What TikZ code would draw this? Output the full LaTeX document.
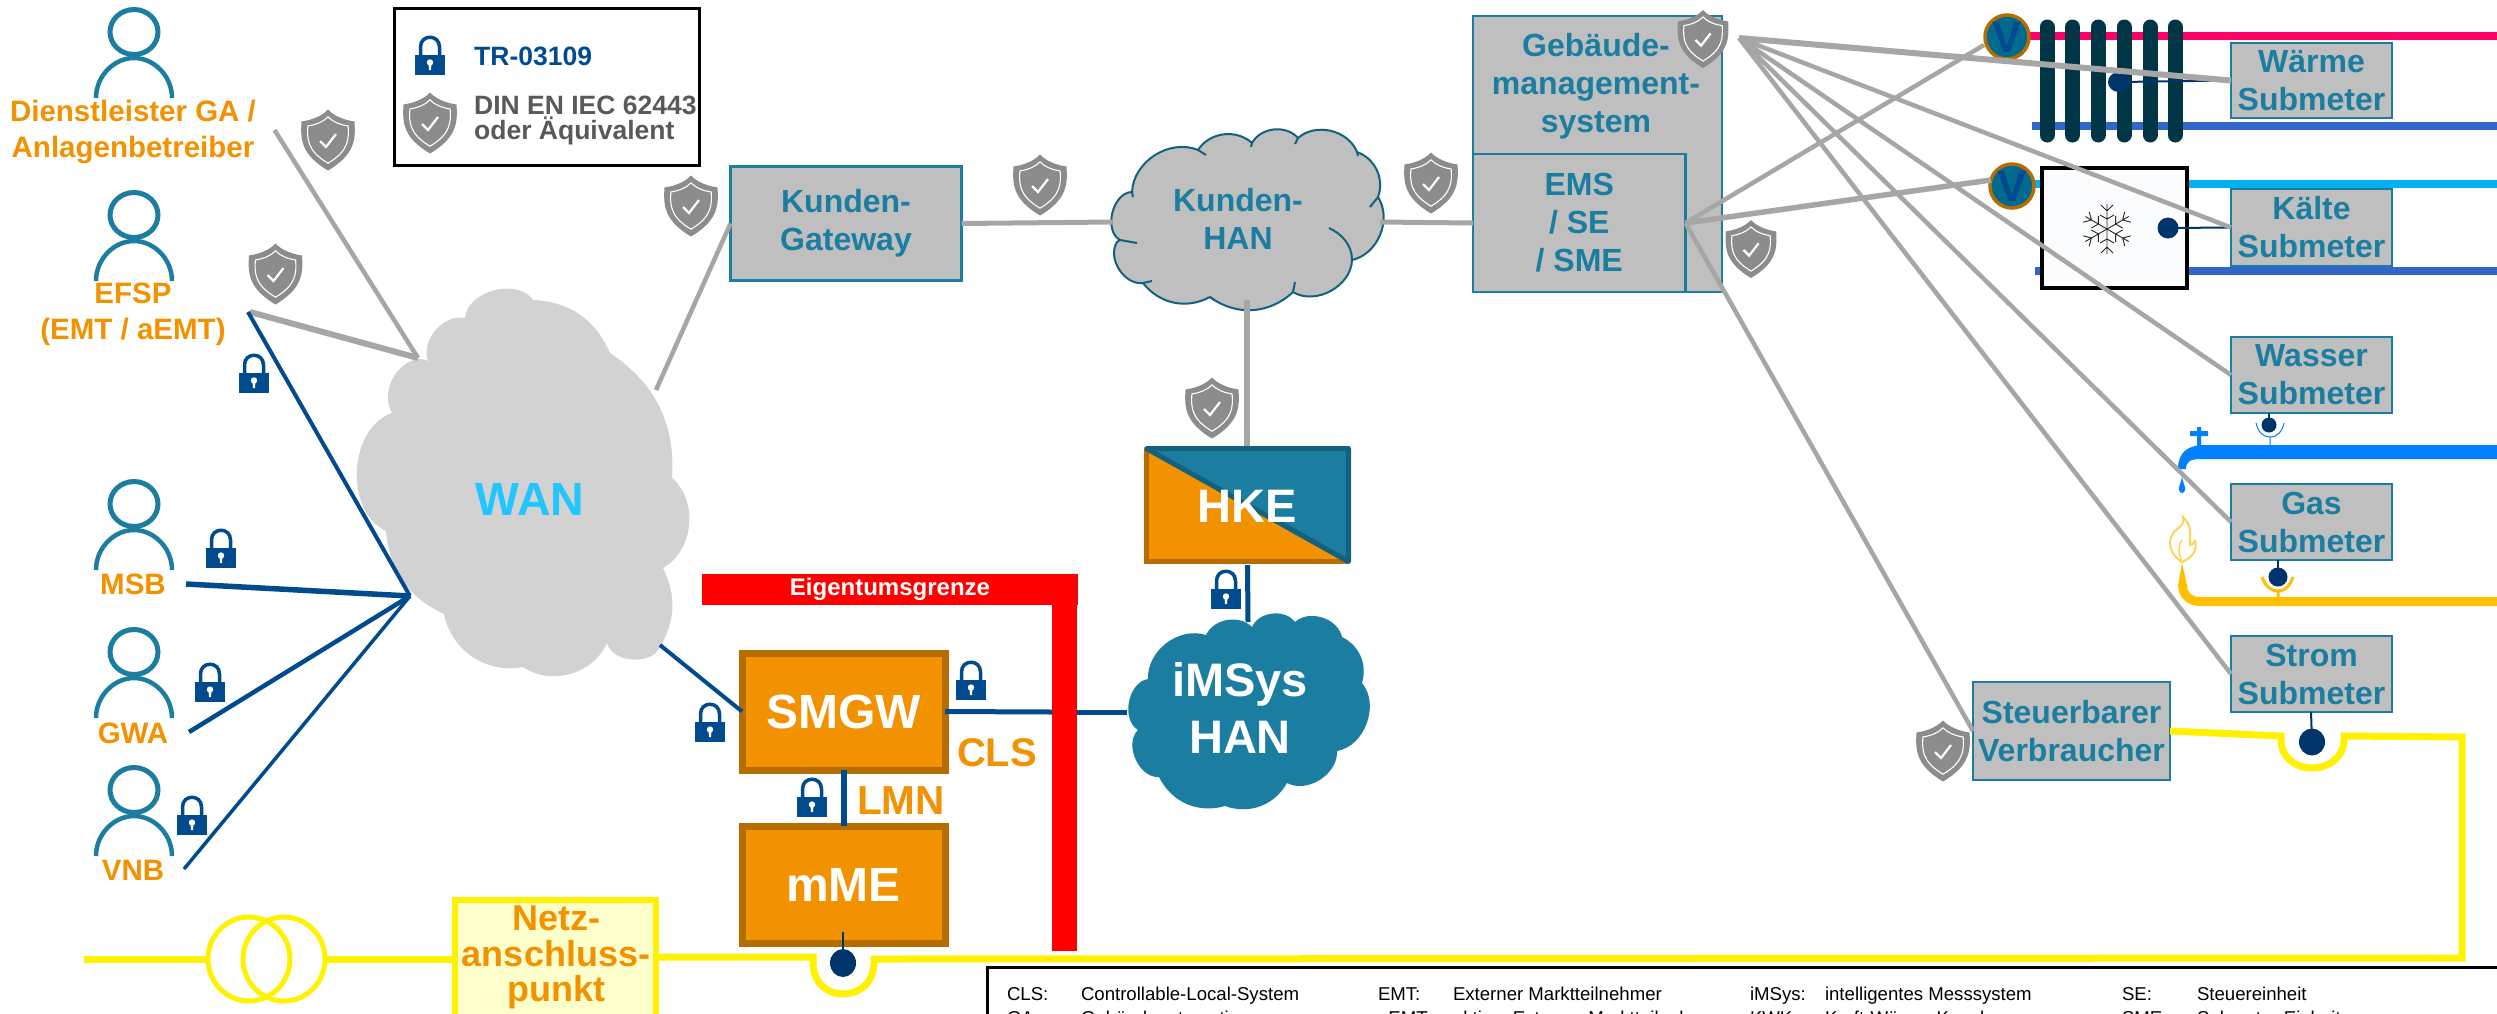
\documentclass[tikz,border=0pt]{standalone}
\usepackage{fontspec}
\setmainfont{Liberation Sans}
\definecolor{teal}{HTML}{1B7EA1}
\definecolor{tealdk}{HTML}{12627F}
\definecolor{bxgray}{HTML}{BFBFBF}
\definecolor{lngray}{HTML}{A6A6A6}
\definecolor{cloudgray}{HTML}{D2D2D2}
\definecolor{nblue}{HTML}{004B8D}
\definecolor{orng}{HTML}{F39200}
\definecolor{orngdk}{HTML}{B56C00}
\definecolor{shgray}{HTML}{8C8C8C}
\definecolor{radi}{HTML}{003545}
\definecolor{mdot}{HTML}{00356B}
\tikzset{
 gbox/.style={draw=teal,fill=bxgray,line width=2.5,inner sep=0,outer sep=0,align=center,text=teal,font=\fontsize{32}{38}\selectfont\bfseries},
 obox/.style={draw=orngdk,fill=orng,line width=7,inner sep=0,outer sep=0,align=center,text=white,font=\fontsize{48}{48}\selectfont\bfseries},
 lbl/.style={inner sep=0,outer sep=0,align=center,text=orng,font=\fontsize{29.5}{36.5}\selectfont\bfseries},
 ctxt/.style={inner sep=0,outer sep=0,align=center},
 lgd/.style={anchor=base west,inner sep=0,outer sep=0,font=\fontsize{18.6}{18.6}\selectfont},
 gl/.style={draw=lngray,line width=4.5},
 bl/.style={draw=nblue,line width=5},
 yl/.style={draw=yellow,line width=7},
 stem/.style={draw=mdot,line width=2},
 mdotst/.style={fill=mdot,draw=none},
 valve/.style={draw=orngdk,fill={rgb,255:red,0;green,107;blue,143},line width=3.5,minimum size=44,inner sep=0,outer sep=0,shape=circle,text=nblue,font=\fontsize{44}{44}\selectfont\bfseries},
 person/.pic={
  \draw[teal,line width=5,fill=white] (0,0) ellipse [x radius=24,y radius=22.5];
  \draw[teal,line width=4.5] (-38,66) .. controls (-38,44) and (-20,26) .. (0,26) .. controls (20,26) and (38,44) .. (38,66);
 },
 lock/.pic={
  \draw[nblue,line width=3.5] (-9.5,2) -- (-9.5,-8) .. controls (-9.5,-21) and (9.5,-21) .. (9.5,-8) -- (9.5,2);
  \fill[nblue] (-15,0) rectangle (15,19.5);
  \fill[white] (0,7.5) circle (3.2);
  \fill[white] (-1.5,8) -- (1.5,8) -- (1,15) -- (-1,15) -- cycle;
 },
 shld/.pic={
  \fill[shgray] (0,-30.5) .. controls (6,-24) and (16,-20) .. (26.5,-18.5) .. controls (27.5,-2) and (28,14) .. (0,30.5) .. controls (-28,14) and (-27.5,-2) .. (-26.5,-18.5) .. controls (-16,-20) and (-6,-24) .. (0,-30.5) -- cycle;
  \draw[white,line width=1.1,scale=.76] (0,-30.5) .. controls (6,-24) and (16,-20) .. (26.5,-18.5) .. controls (27.5,-2) and (28,14) .. (0,30.5) .. controls (-28,14) and (-27.5,-2) .. (-26.5,-18.5) .. controls (-16,-20) and (-6,-24) .. (0,-30.5) -- cycle;
  \draw[white,line width=2.2] (-8,1) -- (-2,7) -- (8,-6);
 },
 flake/.pic={
  \foreach \a in {0,60,120,180,240,300}{
   \begin{scope}[rotate=\a]
    \draw[black!85,line width=.9] (0,0) -- (0,-25) (0,-18) -- (-6,-24) (0,-18) -- (6,-24) (0,-10) -- (-7,-14) (0,-10) -- (7,-14);
   \end{scope}
  }
 }
}
\begin{document}
\begin{tikzpicture}[x=1pt,y=-1pt]
\path[use as bounding box] (0,0) rectangle (2497,1013);
\clip (0,0) rectangle (2497,1013);
\fill[white] (0,0) rectangle (2497,1013);

% ---- clouds
\fill[cloudgray] (465,318) to[bend left=70] (533,300) to[bend left=32] (610,353) to[bend left=30] (672,478)
  to[bend left=55] (663,568) to[bend left=28] (660,647) to[bend left=70] (607,643) to[bend left=50] (523,667)
  to[bend left=45] (444,614) to[bend left=30] (386,531) to[bend left=68] (392,413) to[bend left=55] (418,359)
  to[bend left=10] (428,361) to[bend left=60] (465,318) -- cycle;
\node[ctxt,text={rgb,255:red,33;green,197;blue,255},font=\fontsize{46.5}{46.5}\selectfont\bfseries] (wan) at (530,499) {WAN};

\draw[tealdk,line width=2,fill=bxgray] (1120,240) to[bend left=75] (1132,192) to[bend left=55] (1198,150) to[bend left=50] (1252,143)
  to[bend left=55] (1298,138) to[bend left=55] (1357,152) to[bend left=45] (1378,197) to[bend left=55] (1352,260)
  to[bend left=60] (1293,292) to[bend left=40] (1210,297) to[bend left=40] (1143,283) to[bend left=65] (1117,242) -- cycle;
\draw[tealdk,line width=2] (1198,150) -- (1206,155) (1252,143) -- (1251,147) (1298,138) -- (1295,144) (1357,152) -- (1358,156)
  (1378,197) -- (1370,207) (1352,260) .. controls (1352,245) and (1342,234) .. (1329,228) (1293,292) -- (1295,282)
  (1210,297) -- (1214,300) (1143,283) -- (1152,281) (1120,240) -- (1137,243) (1132,192) -- (1133,197);
\node[ctxt,text=teal,font=\fontsize{32}{38}\selectfont\bfseries] (khan) at (1238,219) {Kunden-\\HAN};
\coordinate (khanW) at (1112,222);
\coordinate (khanE) at (1380,222);
\coordinate (khanS) at (1247,300);

\fill[teal] (1138,730) to[bend left=70] (1148,679) to[bend left=55] (1206,635) to[bend left=55] (1252,627) to[bend left=60] (1295,622)
  to[bend left=60] (1342,637) to[bend left=40] (1362,683) to[bend left=60] (1337,751) to[bend left=60] (1287,783)
  to[bend left=40] (1225,806) to[bend left=40] (1159,777) to[bend left=70] (1138,730) -- cycle;
\node[ctxt,text=white,font=\fontsize{47}{57}\selectfont\bfseries] (ihan) at (1240,708) {iMSys\\HAN};
\coordinate (ihanW) at (1127,712);
\coordinate (ihanN) at (1248,622);

% ---- pipes
\draw[line width=8.5,color={rgb,255:red,255;green,0;blue,102}] (2030,36) -- (2497,36);
\draw[line width=8,color={rgb,255:red,51;green,102;blue,204}] (2032,126) -- (2497,126);
\draw[line width=8,color={rgb,255:red,0;green,176;blue,240}] (2033,184) -- (2497,184);
\draw[line width=8,color={rgb,255:red,51;green,102;blue,204}] (2035,271) -- (2497,271);
\foreach \x in {2047,2072.5,2098,2124,2150,2175}
  \draw[radi,line width=15,line cap=round] (\x,27) -- (\x,135);

\node[draw=black,line width=4.5,fill={rgb,255:red,250;green,252;blue,254},minimum width=145,minimum height=120,inner sep=0,outer sep=0] (cool) at (2114.5,228) {};
\pic at (2107,229) {flake};

% faucet
\fill[color={rgb,255:red,0;green,128;blue,255}] (2497,445) -- (2205,445) .. controls (2188,445) and (2178,452) .. (2178,469) -- (2186,469) .. controls (2186,462) and (2190,459) .. (2200,459) -- (2497,459) -- cycle;
\fill[color={rgb,255:red,0;green,128;blue,255}] (2197,427) rectangle (2201,446) (2190,431) rectangle (2208,436);
\fill[color={rgb,255:red,0;green,128;blue,255}] (2182,476) .. controls (2183,484) and (2186,487) .. (2185,490) .. controls (2184,494) and (2180,494) .. (2179,490) .. controls (2178,487) and (2181,484) .. (2182,476) -- cycle;
% gas
\fill[color={rgb,255:red,255;green,192;blue,0}] (2497,597) -- (2200,597) .. controls (2191,597) and (2187,592) .. (2187,585) -- (2182,563) -- (2178,585) .. controls (2178,598) and (2188,606) .. (2200,606) -- (2497,606) -- cycle;
\draw[color={rgb,255:red,255;green,210;blue,90},line width=2] (2182,562) .. controls (2172,556) and (2167,545) .. (2172,535) .. controls (2176,528) and (2186,525) .. (2183,517) .. controls (2192,525) and (2190,535) .. (2190,545) .. controls (2192,545) and (2194,543) .. (2195,541) .. controls (2198,550) and (2192,558) .. (2182,562) -- cycle;
\draw[color={rgb,255:red,255;green,210;blue,90},line width=1.5] (2182,562) .. controls (2178,552) and (2178,545) .. (2182,540);

% ---- connectors grey
\coordinate (dlEnd) at (274.5,130);
\coordinate (efspEnd) at (250,312);
\coordinate (wanNW) at (418,358);
\coordinate (wanNE) at (656,390);
\coordinate (gms) at (1739,38);
\coordinate (v1tip) at (1984,45);
\coordinate (v2tip) at (1991,180);

\node[gbox,minimum width=249,minimum height=276] (gmsbox) at (1597.5,154) {};
\node[ctxt,text=teal,font=\fontsize{32}{38}\selectfont\bfseries] (gmstxt) at (1596,86.5) {Gebäude-\\management-\\system};
\node[gbox,minimum width=212.5,minimum height=138] (ems) at (1579.25,223) {EMS\\/ SE\\/ SME};
\node[gbox,minimum width=231,minimum height=114] (kgw) at (846,223.5) {Kunden-\\Gateway};
\node[gbox,minimum width=161,minimum height=75] (sm1) at (2311.5,80.5) {Wärme\\Submeter};
\node[gbox,minimum width=161,minimum height=77] (sm2) at (2311.5,227.5) {Kälte\\Submeter};
\node[gbox,minimum width=161,minimum height=76] (sm3) at (2311.5,375) {Wasser\\Submeter};
\node[gbox,minimum width=161,minimum height=76] (sm4) at (2311.5,522) {Gas\\Submeter};
\node[gbox,minimum width=161,minimum height=76] (sm5) at (2311.5,674) {Strom\\Submeter};
\node[gbox,minimum width=197,minimum height=98] (stv) at (2071.5,731) {Steuerbarer\\Verbraucher};

% meters
\coordinate (d1) at (2119,82);
\coordinate (d2) at (2168,228);
\coordinate (d3) at (2269,425);
\coordinate (d4) at (2278,577);
\coordinate (d5) at (2312,742);
\draw[stem] (d1) -- (sm1.west);
\draw[stem] (d2) -- (sm2.west);
\draw[stem] (2269,413) -- (d3);
\draw[stem] (2278,560) -- (d4);
\draw[stem] (2311,712) -- (d5);
\fill[mdotst] (d1) ellipse [x radius=11,y radius=10];
\fill[mdotst] (d2) ellipse [x radius=10.5,y radius=10.5];
\fill[mdotst] (d3) circle (7.5);
\fill[mdotst] (d4) circle (9.5);
\fill[mdotst] (d5) ellipse [x radius=13,y radius=13.5];
\draw[color={rgb,255:red,0;green,128;blue,255},line width=1] (2256,423) .. controls (2258,432) and (2263,437) .. (2270,437) .. controls (2277,437) and (2282,432) .. (2284,423) (2270,437) -- (2270,445);
\draw[color={rgb,255:red,255;green,192;blue,0},line width=3] (2262,577) .. controls (2265,586) and (2271,591) .. (2278,591) .. controls (2285,591) and (2290,586) .. (2293,577) (2278,591) -- (2278,598);

% valves
\node[valve] (v1) at (2007,37) {V};
\node[valve] (v2) at (2012,186) {V};

\draw[gl] (dlEnd) -- (wanNW);
\draw[gl,line width=6] (efspEnd) -- (wanNW);
\draw[gl] (wanNE) -- (kgw.west);
\draw[gl,line width=5] (kgw.east) -- (khanW);
\draw[gl,line width=5] (khanE) -- (ems.west);
\draw[gl,line width=6] (khanS) -- (1247,446);
\draw[gl,line width=6] (gms) -- (sm1.west);
\draw[gl] (gms) -- (sm2.west);
\draw[gl] (gms) -- (sm3.west);
\draw[gl] (gms) -- (sm4.west);
\draw[gl] (gms) -- (sm5.west);
\draw[gl] (ems.east) -- (v1tip);
\draw[gl,line width=5.5] (ems.east) -- (v2tip);
\draw[gl] (ems.east) -- (stv.west);

% ---- persons and labels
\pic at (134,32) {person};
\pic at (134,215) {person};
\pic at (134,504) {person};
\pic at (134,652) {person};
\pic at (134,790) {person};
\node[lbl] (dl) at (133,132) {Dienstleister GA /\\Anlagenbetreiber};
\node[lbl] (efsp) at (133,314.5) {EFSP\\(EMT / aEMT)};
\node[lbl] (msb) at (133,584) {MSB};
\node[lbl] (gwa) at (133,733) {GWA};
\node[lbl] (vnb) at (133,870) {VNB};

% ---- blue connectors
\coordinate (hub) at (410,596);
\coordinate (efspB) at (248,312);
\coordinate (msbB) at (186,584);
\coordinate (gwaB) at (189,732);
\coordinate (vnbB) at (184,869);
\coordinate (wanSE) at (660,645);
\draw[bl,line width=4] (efspB) -- (hub);
\draw[bl,line width=5.5] (msbB) -- (hub);
\draw[bl,line width=4.5] (gwaB) -- (hub);
\draw[bl,line width=3.5] (vnbB) -- (hub);

% ---- red boundary
\fill[red] (702,574) rectangle (1078,605);
\fill[red] (1052,574) rectangle (1077,951);
\node[ctxt,text=white,font=\fontsize{24}{24}\selectfont\bfseries] (eg) at (890,589) {Eigentumsgrenze};

% ---- orange boxes
\node[obox,minimum width=203,minimum height=117] (smgw) at (843.5,711.5) {SMGW};
\node[obox,minimum width=203,minimum height=117] (mme) at (843.5,884.5) {mME};
\draw[bl,line width=4] (wanSE) -- (smgw.west);
\draw[bl,line width=6] (smgw.south) -- (mme.north);
\draw[bl] (smgw.east) -- (1052,712);
\draw[bl] (1077,712) -- (ihanW);

% ---- HKE
\coordinate (hkeNW) at (1146.5,448.5);
\coordinate (hkeNE) at (1348.5,448.5);
\coordinate (hkeSE) at (1348.5,561.5);
\coordinate (hkeSW) at (1146.5,561.5);
\fill[orng] (hkeNW) -- (hkeNE) -- (hkeSE) -- (hkeSW) -- cycle;
\draw[orngdk,line width=5] (hkeSE) -- (hkeSW) -- (hkeNW);
\fill[teal] (hkeNW) -- (hkeNE) -- (hkeSE) -- cycle;
\draw[tealdk,line width=5,line join=round] (hkeNW) -- (hkeNE) -- (hkeSE) -- cycle;
\node[ctxt,minimum width=207,minimum height=118,text=white,font=\fontsize{47}{47}\selectfont\bfseries] (hke) at (1247.5,506) {HKE};
\draw[bl] (hke.south) -- (ihanN);

% ---- text beside lines
\node[ctxt,text=orng,font=\fontsize{40.5}{40.5}\selectfont\bfseries] (lmn) at (901,801) {LMN};
\node[ctxt,text=orng,font=\fontsize{40}{40}\selectfont\bfseries] (cls) at (997,753) {CLS};

% ---- yellow network
\coordinate (netL) at (84,959);
\node[draw=yellow,line width=6,fill={rgb,255:red,255;green,255;blue,204},minimum width=201,minimum height=140,inner sep=0,outer sep=0] (nap) at (555.5,970) {};
\node[ctxt,text=orng,font=\fontsize{36}{35.5}\selectfont\bfseries] (naptxt) at (556,957.5) {Netz-\\anschluss-\\punkt};
\coordinate (trL) at (207,959);
\coordinate (trR) at (325,959);
\draw[yl] (netL) -- (trL);
\draw[yl] (trR) -- (nap.west |- trR);
\draw[yellow,line width=5] (249,959) ellipse [x radius=41,y radius=42];
\draw[yellow,line width=5] (284,959) ellipse [x radius=41,y radius=42];
\coordinate (uL) at (813,957);
\coordinate (uR) at (874,959);
\draw[yl] (nap.east |- uL) -- (uL) -- (813,962) .. controls (813,984) and (828,994) .. (843,994) .. controls (858,994) and (874,984) .. (874,962) -- (uR) -- (2462,958) -- (2462,737) -- (2344,736) -- (2344,740) .. controls (2344,756) and (2330,768) .. (2312,768) .. controls (2294,768) and (2281,756) .. (2281,740) -- (2281,736) -- (stv.east);
\draw[stem] (843,932) -- (843,963);
\fill[mdotst] (843,963) ellipse [x radius=13,y radius=14];

% ---- legend top left
\node[draw=black,line width=3,fill=white,minimum width=305,minimum height=157,inner sep=0,outer sep=0] (lg) at (546.5,86.5) {};
\node[anchor=west,inner sep=0,text=nblue,font=\fontsize{26.5}{26.5}\selectfont\bfseries] (lg1) at (474,56) {TR-03109};
\node[anchor=west,inner sep=0,align=left,text={rgb,255:red,89;green,89;blue,89},font=\fontsize{26.5}{25}\selectfont\bfseries] (lg2) at (474,120.5) {DIN EN IEC 62443\\oder Äquivalent};
\pic at (430,55) {lock};
\pic at (430,123) {shld};

% ---- locks
\pic at (254,373) {lock};
\pic at (221,548) {lock};
\pic at (210,682) {lock};
\pic at (192,815) {lock};
\pic at (710,722) {lock};
\pic at (971,680) {lock};
\pic at (812,797) {lock};
\pic at (1226,589) {lock};

% ---- shields
\pic at (328,140) {shld};
\pic at (275.5,274) {shld};
\pic at (691,206) {shld};
\pic at (1040,185) {shld};
\pic at (1431,183) {shld};
\pic at (1212,408) {shld};
\pic[scale=.95] at (1703,39) {shld};
\pic[scale=.95] at (1751,249) {shld};
\pic at (1943,751) {shld};

% ---- abbreviations
\draw[black,line width=3,fill=white] (2510,967) -- (987,967) -- (987,1030) -- (2510,1030);
\node[lgd] (a1) at (1007,1000) {CLS:};
\node[lgd] (a2) at (1081,1000) {Controllable-Local-System};
\node[lgd] (a3) at (1378,1000) {EMT:};
\node[lgd] (a4) at (1453,1000) {Externer Marktteilnehmer};
\node[lgd] (a5) at (1750,1000) {iMSys:};
\node[lgd] (a6) at (1825,1000) {intelligentes Messsystem};
\node[lgd] (a7) at (2122,1000) {SE:};
\node[lgd] (a8) at (2197,1000) {Steuereinheit};
\node[lgd] (b1) at (1007,1024) {GA:};
\node[lgd] (b2) at (1081,1024) {Gebäudeautomation};
\node[lgd] (b3) at (1378,1024) {aEMT:};
\node[lgd] (b4) at (1453,1024) {aktiver Externer Marktteilnehmer};
\node[lgd] (b5) at (1750,1024) {KWK:};
\node[lgd] (b6) at (1825,1024) {Kraft-Wärme-Kopplung};
\node[lgd] (b7) at (2122,1024) {SME:};
\node[lgd] (b8) at (2197,1024) {Submeter-Einheit};
\end{tikzpicture}
\end{document}
